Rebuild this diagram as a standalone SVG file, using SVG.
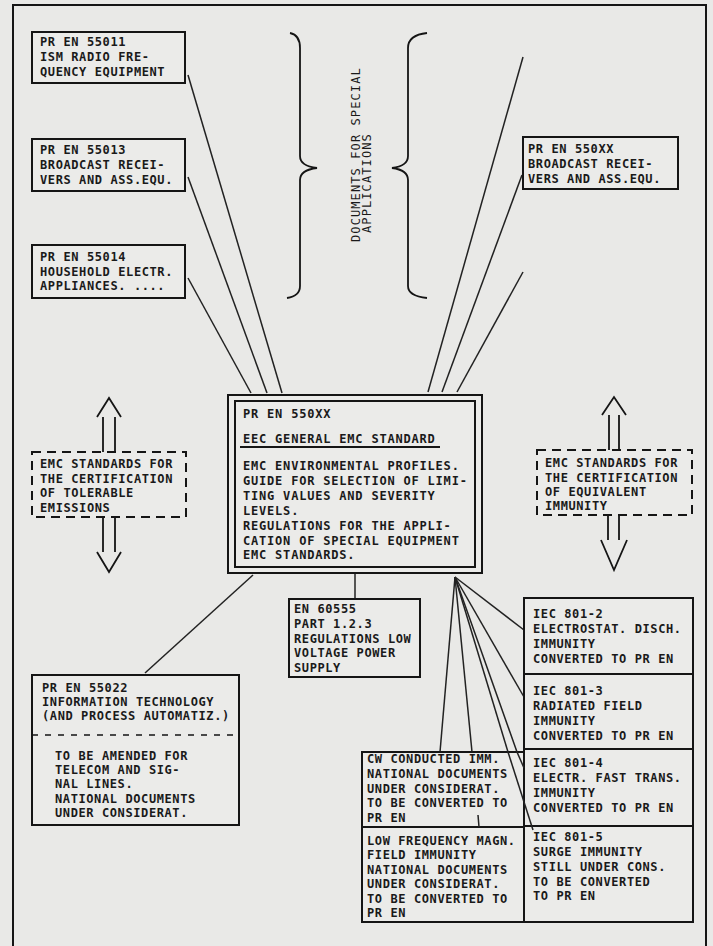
<svg xmlns="http://www.w3.org/2000/svg" width="713" height="946" viewBox="0 0 713 946">
<style>
.t{font-family:"DejaVu Sans Mono","Liberation Mono",monospace;font-size:12px;font-weight:bold;letter-spacing:0.6px;fill:#1a1a1a}
.c{letter-spacing:0.8px}
.r{font-weight:normal;letter-spacing:1.1px}
.box{fill:#ebebe9;stroke:#151515;stroke-width:2}
.dash{fill:#ebebe9;stroke:#151515;stroke-width:2;stroke-dasharray:9 6}
.ln{fill:none;stroke:#222;stroke-width:1.5}
.arr{fill:none;stroke:#151515;stroke-width:1.8}
</style>
<rect width="713" height="946" fill="#e9e9e7"/>
<path d="M13,950 V5 H706 V950" fill="none" stroke="#151515" stroke-width="2"/>

<g id="connectors">
<line class="ln" x1="188" y1="75" x2="282" y2="393"/>
<line class="ln" x1="188" y1="177" x2="267" y2="393"/>
<line class="ln" x1="188" y1="278" x2="251" y2="393"/>
<line class="ln" x1="523" y1="57" x2="428" y2="392"/>
<line class="ln" x1="522" y1="175" x2="442" y2="392"/>
<line class="ln" x1="523" y1="272" x2="457" y2="392"/>
<line class="ln" x1="180" y1="39" x2="185" y2="50"/>
<line class="ln" x1="180" y1="262" x2="185" y2="272"/>
<line class="ln" x1="355" y1="573" x2="355" y2="599"/>
<line class="ln" x1="253" y1="575" x2="145" y2="673"/>
<line class="ln" x1="455" y1="577" x2="440" y2="752"/>
<line class="ln" x1="455" y1="577" x2="472" y2="752"/>
<line class="ln" x1="455" y1="577" x2="524" y2="630"/>
<line class="ln" x1="455" y1="577" x2="524" y2="697"/>
</g>

<g id="n55011"><rect class="box" x="32" y="32" width="153" height="51"/>
<text class="t" x="40" y="46">PR EN 55011</text><text class="t" x="40" y="61">ISM RADIO FRE-</text><text class="t" x="40" y="76">QUENCY EQUIPMENT</text></g>

<g id="n55013"><rect class="box" x="32" y="139" width="153" height="52"/>
<text class="t" x="40" y="154">PR EN 55013</text><text class="t" x="40" y="169">BROADCAST RECEI-</text><text class="t" x="40" y="184">VERS AND ASS.EQU.</text></g>

<g id="n55014"><rect class="box" x="32" y="245" width="153" height="53"/>
<text class="t" x="40" y="261">PR EN 55014</text><text class="t" x="40" y="276">HOUSEHOLD ELECTR.</text><text class="t" x="40" y="290">APPLIANCES. ....</text></g>

<g id="n550xxb"><rect class="box" x="523" y="137" width="155" height="52"/>
<text class="t" x="528" y="153">PR EN 550XX</text><text class="t" x="528" y="168">BROADCAST RECEI-</text><text class="t" x="528" y="183">VERS AND ASS.EQU.</text></g>

<g id="brace">
<path class="arr" d="M290,33 Q300,35 300,48 V156 Q300,166 317,168 Q300,170 300,180 V286 Q300,296 287,298"/>
<path class="arr" d="M427,33 Q408,35 408,48 V156 Q408,166 392,168 Q408,170 408,180 V286 Q408,296 427,298"/>
<text class="t r" transform="translate(360,242) rotate(-90)">DOCUMENTS FOR SPECIAL</text>
<text class="t r" transform="translate(371,233) rotate(-90)">APPLICATIONS</text>
</g>

<g id="central">
<rect class="box" x="228" y="395" width="254" height="178" stroke-width="2.5"/>
<rect x="235" y="401" width="240" height="166" fill="none" stroke="#151515" stroke-width="2"/>
<text class="t c" x="243" y="418">PR EN 550XX</text>
<text class="t c" x="243" y="443">EEC GENERAL EMC STANDARD</text>
<line x1="240" y1="447" x2="440" y2="447" stroke="#151515" stroke-width="1.8"/>
<text class="t c" x="243" y="470">EMC ENVIRONMENTAL PROFILES.</text>
<text class="t c" x="243" y="485">GUIDE FOR SELECTION OF LIMI-</text>
<text class="t c" x="243" y="500">TING VALUES AND SEVERITY</text>
<text class="t c" x="243" y="515">LEVELS.</text>
<text class="t c" x="243" y="530">REGULATIONS FOR THE APPLI-</text>
<text class="t c" x="243" y="545">CATION OF SPECIAL EQUIPMENT</text>
<text class="t c" x="243" y="559">EMC STANDARDS.</text>
</g>

<g id="emissions">
<rect class="dash" x="32" y="452" width="154" height="65"/>
<text class="t" x="40" y="468">EMC STANDARDS FOR</text><text class="t" x="40" y="483">THE CERTIFICATION</text><text class="t" x="40" y="497">OF TOLERABLE</text><text class="t" x="40" y="512">EMISSIONS</text>
<path class="arr" d="M97,417 L109,398 L121,417 M103,417 V452 M115,417 V452"/>
<path class="arr" d="M97,552 L109,572 L121,552 M103,517 V552 M115,517 V552"/>
</g>

<g id="immunity">
<rect class="dash" x="537" y="450" width="155" height="65"/>
<text class="t" x="545" y="467">EMC STANDARDS FOR</text><text class="t" x="545" y="482">THE CERTIFICATION</text><text class="t" x="545" y="496">OF EQUIVALENT</text><text class="t" x="545" y="510">IMMUNITY</text>
<path class="arr" d="M602,415 L614,397 L626,415 M609,415 V450 M619,415 V450"/>
<path class="arr" d="M601,540 L614,570 L627,540 M608,515 V540 M619,515 V540"/>
</g>

<g id="en60555"><rect class="box" x="289" y="599" width="131" height="78"/>
<text class="t" x="294" y="613">EN 60555</text><text class="t" x="294" y="628">PART 1.2.3</text><text class="t" x="294" y="643">REGULATIONS LOW</text><text class="t" x="294" y="657">VOLTAGE POWER</text><text class="t" x="294" y="672">SUPPLY</text></g>

<g id="n55022"><rect class="box" x="32" y="675" width="207" height="150"/>
<line x1="32" y1="735" x2="239" y2="735" stroke="#151515" stroke-width="1.5" stroke-dasharray="6 7"/>
<text class="t" x="42" y="692">PR EN 55022</text><text class="t" x="42" y="706">INFORMATION TECHNOLOGY</text><text class="t" x="42" y="720">(AND PROCESS AUTOMATIZ.)</text>
<text class="t" x="55" y="760">TO BE AMENDED FOR</text><text class="t" x="55" y="774">TELECOM AND SIG-</text><text class="t" x="55" y="788">NAL LINES.</text><text class="t" x="55" y="803">NATIONAL DOCUMENTS</text><text class="t" x="55" y="817">UNDER CONSIDERAT.</text></g>

<g id="iec2"><rect class="box" x="524" y="598" width="169" height="76"/>
<text class="t" x="533" y="618">IEC 801-2</text><text class="t" x="533" y="633">ELECTROSTAT. DISCH.</text><text class="t" x="533" y="648">IMMUNITY</text><text class="t" x="533" y="663">CONVERTED TO PR EN</text></g>
<g id="iec3"><rect class="box" x="524" y="674" width="169" height="75"/>
<text class="t" x="533" y="695">IEC 801-3</text><text class="t" x="533" y="710">RADIATED FIELD</text><text class="t" x="533" y="725">IMMUNITY</text><text class="t" x="533" y="740">CONVERTED TO PR EN</text></g>
<g id="iec4"><rect class="box" x="524" y="749" width="169" height="77"/>
<text class="t" x="533" y="767">IEC 801-4</text><text class="t" x="533" y="782">ELECTR. FAST TRANS.</text><text class="t" x="533" y="797">IMMUNITY</text><text class="t" x="533" y="812">CONVERTED TO PR EN</text></g>
<g id="iec5"><rect class="box" x="524" y="826" width="169" height="96"/>
<text class="t" x="533" y="841">IEC 801-5</text><text class="t" x="533" y="856">SURGE IMMUNITY</text><text class="t" x="533" y="871">STILL UNDER CONS.</text><text class="t" x="533" y="886">TO BE CONVERTED</text><text class="t" x="533" y="900">TO PR EN</text></g>

<g id="cw"><rect class="box" x="362" y="752" width="162" height="75"/>
<text class="t" x="367" y="763">CW CONDUCTED IMM.</text><text class="t" x="367" y="778">NATIONAL DOCUMENTS</text><text class="t" x="367" y="793">UNDER CONSIDERAT.</text><text class="t" x="367" y="807">TO BE CONVERTED TO</text><text class="t" x="367" y="822">PR EN</text></g>
<g id="lowfreq"><rect class="box" x="362" y="827" width="162" height="95"/>
<text class="t" x="367" y="845">LOW FREQUENCY MAGN.</text><text class="t" x="367" y="859">FIELD IMMUNITY</text><text class="t" x="367" y="874">NATIONAL DOCUMENTS</text><text class="t" x="367" y="888">UNDER CONSIDERAT.</text><text class="t" x="367" y="903">TO BE CONVERTED TO</text><text class="t" x="367" y="917">PR EN</text></g>

<g id="connectors-over">
<line class="ln" x1="508" y1="752" x2="533" y2="830"/>
<line class="ln" x1="517" y1="752" x2="524" y2="768"/>
<line class="ln" x1="478" y1="815" x2="479" y2="827"/>
<line class="ln" x1="455" y1="577" x2="508" y2="752"/>
<line class="ln" x1="455" y1="577" x2="517" y2="752"/>
</g>
</svg>
